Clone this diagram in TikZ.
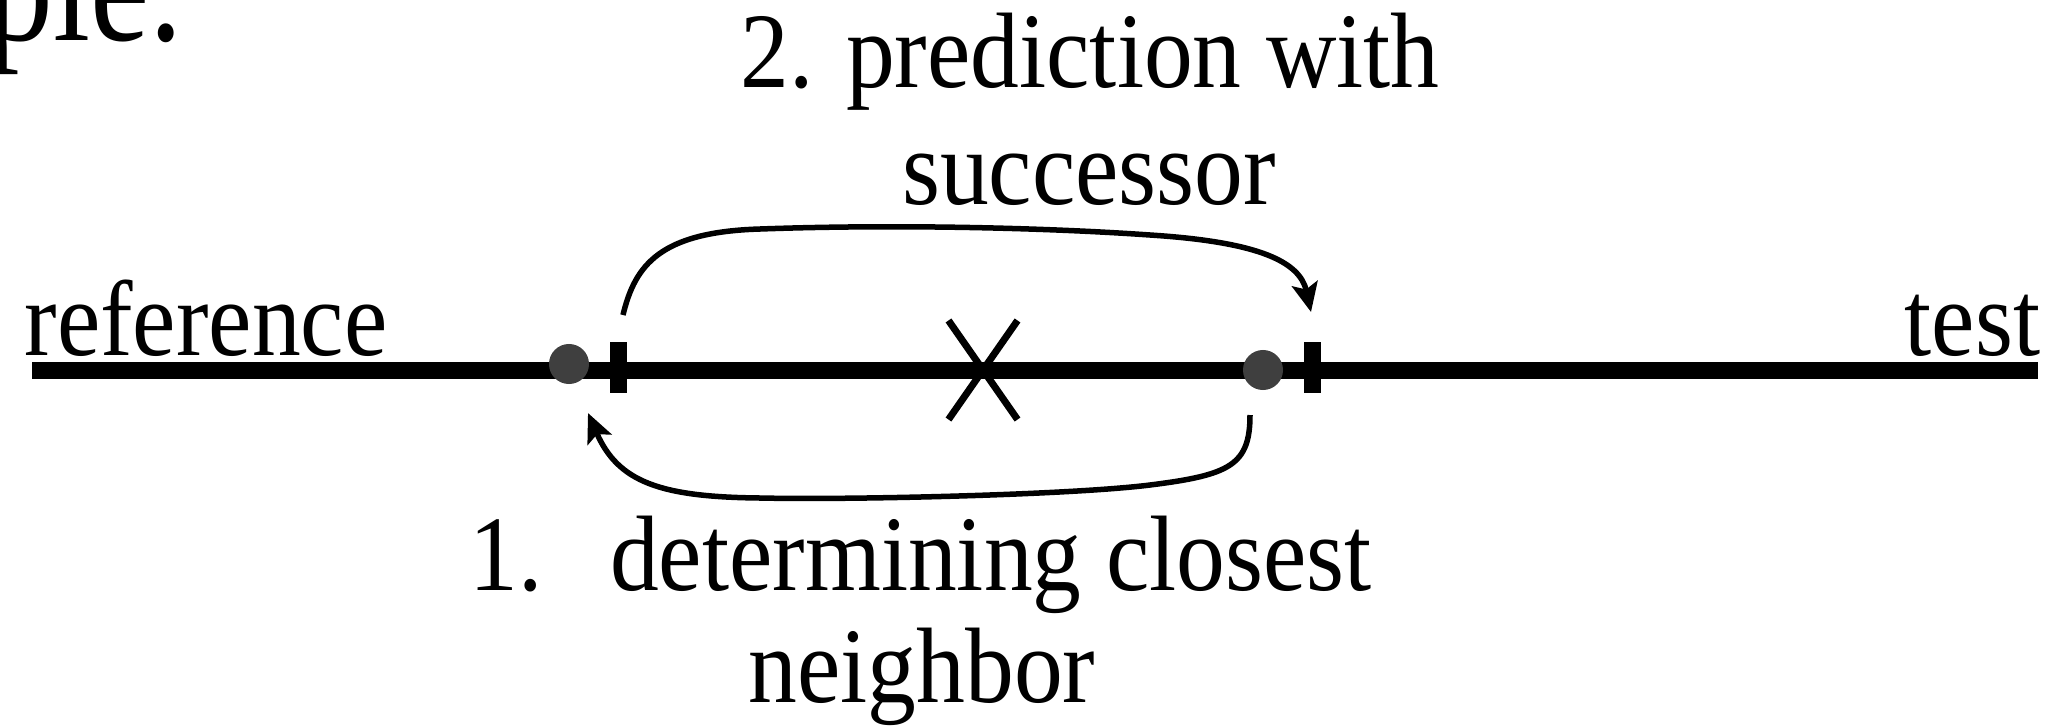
\documentclass[tikz,border=0pt]{standalone}
\usepackage{fontspec}
\setmainfont{Liberation Serif}
\usetikzlibrary{arrows.meta,shapes.misc}
\definecolor{dotgray}{HTML}{3F3F3F}
\newcommand\vtall[1]{\scalebox{1}[1.1]{#1}}
\begin{document}
\begin{tikzpicture}[x=0.01cm,y=-0.01cm,
  lbl/.style={inner sep=0pt, font=\fontsize{27.74}{32}\selectfont},
  axis/.style={line width=0.17cm},
  dot/.style={circle, fill=dotgray, minimum size=0.40cm, inner sep=0pt},
  tickmark/.style={rectangle, fill=black, minimum width=0.17cm, minimum height=0.51cm, inner sep=0pt},
  arc/.style={line width=0.055cm, -{Stealth[length=0.29cm,width=0.26cm,inset=0.06cm]}},
  cross/.style={cross out, draw, line width=0.07cm, minimum width=0.62cm, minimum height=0.92cm, inner sep=0pt}
]
\useasboundingbox (0,0) rectangle (2057,727);
% axis
\coordinate (L) at (32,370);
\coordinate (R) at (2038,370);
\draw[axis] (L) -- (R);
% marks
\node[tickmark] (t1) at (618.5,367.5) {};
\node[tickmark] (t2) at (1312,367.5) {};
\node[dot] (d1) at (569,364) {};
\node[dot] (d2) at (1263,370) {};
\node[cross] (x) at (983,370) {};
% arcs
\coordinate (s2) at (623,315);
\coordinate (e2) at (1311,312);
\draw[arc] (s2) .. controls (635,265) and (660,232) .. (760,229)
  .. controls (900,224) and (1050,228) .. (1150,235)
  .. controls (1260,242) and (1300,262) .. (e2);
\coordinate (s1) at (1250,415);
\coordinate (e1) at (588,413);
\draw[arc] (s1) .. controls (1250,465) and (1230,475) .. (1150,485)
  .. controls (1070,495) and (850,500) .. (760,498)
  .. controls (660,497) and (618,482) .. (e1);
% labels
\node[lbl, anchor=base west] (ref) at (24,355) {\vtall{reference}};
\node[lbl, anchor=base east] (tst) at (2041,355) {\vtall{test}};
\node[lbl, anchor=base] (p2a) at (1090,87) {\vtall{2. prediction with}};
\node[lbl, anchor=base] (p2b) at (1089,204) {\vtall{successor}};
\node[lbl, anchor=base west] (p1a) at (469,590) {\vtall{1.\hspace{0.69em}determining closest}};
\node[lbl, anchor=base] (p1b) at (922,702) {\vtall{neighbor}};
\node[inner sep=0pt, font=\fontsize{38}{44}\selectfont, anchor=base east] (ple) at (184,40) {\scalebox{1}[1.2]{ple.}};
\end{tikzpicture}
\end{document}
